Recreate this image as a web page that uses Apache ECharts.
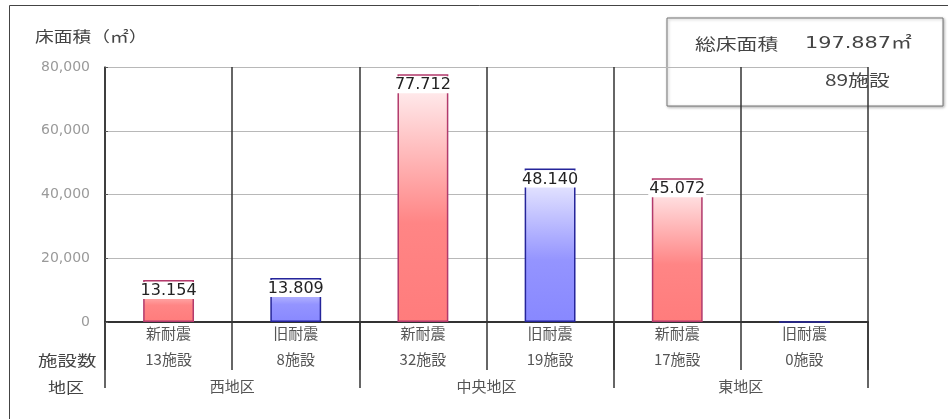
<!DOCTYPE html>
<html>
<head>
<meta charset="utf-8">
<script src="https://cdn.jsdelivr.net/npm/echarts@6/dist/echarts.min.js"></script>
<style>
  html, body { margin: 0; padding: 0; background: #fff; }
  #chart { width: 948px; height: 419px; }
</style>
</head>
<body>
<div id="chart"></div>
<script>
// 区分・床面積・施設数
const categories = ['新耐震', '旧耐震', '新耐震', '旧耐震', '新耐震', '旧耐震'];
const floorArea = [13154, 13809, 77712, 48140, 45072, 0];
const facilityCounts = [13, 8, 32, 19, 17, 0];
const districts = ['西地区', '中央地区', '東地区'];
const yTicks = [0, 20000, 40000, 60000, 80000];

const CJK = '"Noto Sans CJK JP", "Noto Sans", sans-serif';
const NUM = '"DejaVu Sans", "Noto Sans CJK JP", sans-serif';

// 数値を 13.154 のように区切る
function dotted(v) {
    return String(v).replace(/\B(?=(\d{3})+(?!\d))/g, '.');
}

function barGradient(isNew) {
    const stops = isNew
        ? [{ offset: 0, color: '#fff6f8' }, { offset: 0.6, color: '#ff8585' }, { offset: 1, color: '#ff7c7c' }]
        : [{ offset: 0, color: '#f4f4ff' }, { offset: 0.6, color: '#9494ff' }, { offset: 1, color: '#8888ff' }];
    return new echarts.graphic.LinearGradient(0, 0, 0, 1, stops);
}

// 横に少し引き伸ばした文字（元図のフォントに合わせる）
function wideText(text, x, y, size, sx, font) {
    return {
        type: 'text', x: x, y: y, scaleX: sx, silent: true,
        style: { text: text, fontSize: size, fontFamily: font || CJK, fill: '#444', verticalAlign: 'middle' }
    };
}

// 表の罫線だけを描く補助軸（グリッド下側）
function ruleAxis(data, gridIndex) {
    return {
        type: 'category',
        gridIndex: gridIndex,
        data: data,
        axisLine: { show: false },
        axisTick: { show: false },
        axisLabel: { show: false },
        splitLine: { show: true, interval: 0, lineStyle: { color: '#333', width: 1.5 } }
    };
}

function hiddenY(gridIndex) {
    return { type: 'value', gridIndex: gridIndex, show: false, min: 0, max: 1, splitLine: { show: false } };
}

const totalArea = floorArea.reduce((a, b) => a + b, 0);
const totalCount = facilityCounts.reduce((a, b) => a + b, 0);

const chart = echarts.init(document.getElementById('chart'));

const barData = floorArea.map((v, i) => {
    const isNew = categories[i] === '新耐震';
    return {
        value: v,
        itemStyle: {
            color: barGradient(isNew),
            borderColor: isNew ? '#b23a6c' : '#25259a',
            borderWidth: 1.5
        },
        label: { show: v > 0 }
    };
});

const option = {
    animation: false,
    grid: [
        { left: 105, right: 80, top: 67, bottom: 97 },
        { left: 105, right: 80, top: 322, height: 48 },
        { left: 105, right: 80, top: 322, height: 66 }
    ],
    xAxis: [
        {
            type: 'category',
            gridIndex: 0,
            data: categories,
            position: 'bottom',
            axisLine: { show: true, lineStyle: { color: '#333', width: 2 } },
            axisTick: { show: false },
            axisLabel: { interval: 0, margin: 4, fontSize: 15, color: '#555', fontFamily: CJK },
            splitLine: { show: true, interval: 0, lineStyle: { color: '#333', width: 1.5 } }
        },
        {
            type: 'category',
            gridIndex: 0,
            data: facilityCounts.map(c => c + '施設'),
            position: 'bottom',
            axisLine: { show: false },
            axisTick: { show: false },
            axisLabel: { interval: 0, margin: 30, fontSize: 15, color: '#555', fontFamily: CJK },
            splitLine: { show: false }
        },
        {
            type: 'category',
            gridIndex: 0,
            data: districts,
            position: 'bottom',
            axisLine: { show: false },
            axisTick: { show: false },
            axisLabel: { interval: 0, margin: 57, fontSize: 15, color: '#555', fontFamily: CJK },
            splitLine: { show: false }
        },
        ruleAxis(categories, 1),
        ruleAxis(districts, 2)
    ],
    yAxis: [
        {
            type: 'value',
            gridIndex: 0,
            min: yTicks[0],
            max: yTicks[yTicks.length - 1],
            interval: yTicks[1] - yTicks[0],
            axisLine: { show: true, lineStyle: { color: '#333', width: 1.5 } },
            axisTick: { show: true, inside: true, length: 3, lineStyle: { color: '#555' } },
            axisLabel: {
                margin: 15,
                fontSize: 14,
                color: '#9a9a9a',
                fontFamily: NUM,
                formatter: v => v.toLocaleString('en-US')
            },
            splitLine: { lineStyle: { color: '#b8b8b8', width: 1 } }
        },
        hiddenY(1),
        hiddenY(2)
    ],
    series: [
        {
            type: 'bar',
            xAxisIndex: 0,
            yAxisIndex: 0,
            barWidth: '40%',
            data: barData,
            label: {
                position: 'insideTop',
                distance: 2,
                color: '#222',
                fontSize: 16,
                fontFamily: NUM,
                backgroundColor: '#fff',
                padding: [1, 1, 0, 1],
                formatter: p => dotted(p.value)
            }
        }
    ],
    graphic: [
        {
            type: 'rect',
            silent: true,
            z: -10,
            shape: { x: 9.5, y: 5.5, width: 1000, height: 500 },
            style: { fill: 'none', stroke: '#444', lineWidth: 1 }
        },
        wideText('床面積（㎡）', 35, 36, 15, 1.25),
        wideText('施設数', 38, 360, 15, 1.3),
        wideText('地区', 48, 387, 15, 1.2),
        {
            type: 'group',
            z: 100,
            children: [
                {
                    type: 'rect',
                    shape: { x: 667, y: 18, width: 276, height: 88 },
                    style: {
                        fill: '#fff', stroke: '#777', lineWidth: 1,
                        shadowBlur: 3, shadowOffsetX: 1, shadowOffsetY: 1, shadowColor: 'rgba(0,0,0,0.3)'
                    }
                },
                wideText('総床面積', 695, 44, 16, 1.3),
                wideText(dotted(totalArea) + '㎡', 805, 44, 16, 1.3, NUM),
                wideText(totalCount + '施設', 825, 80, 16, 1.3)
            ]
        }
    ]
};

chart.setOption(option);
</script>
</body>
</html>
